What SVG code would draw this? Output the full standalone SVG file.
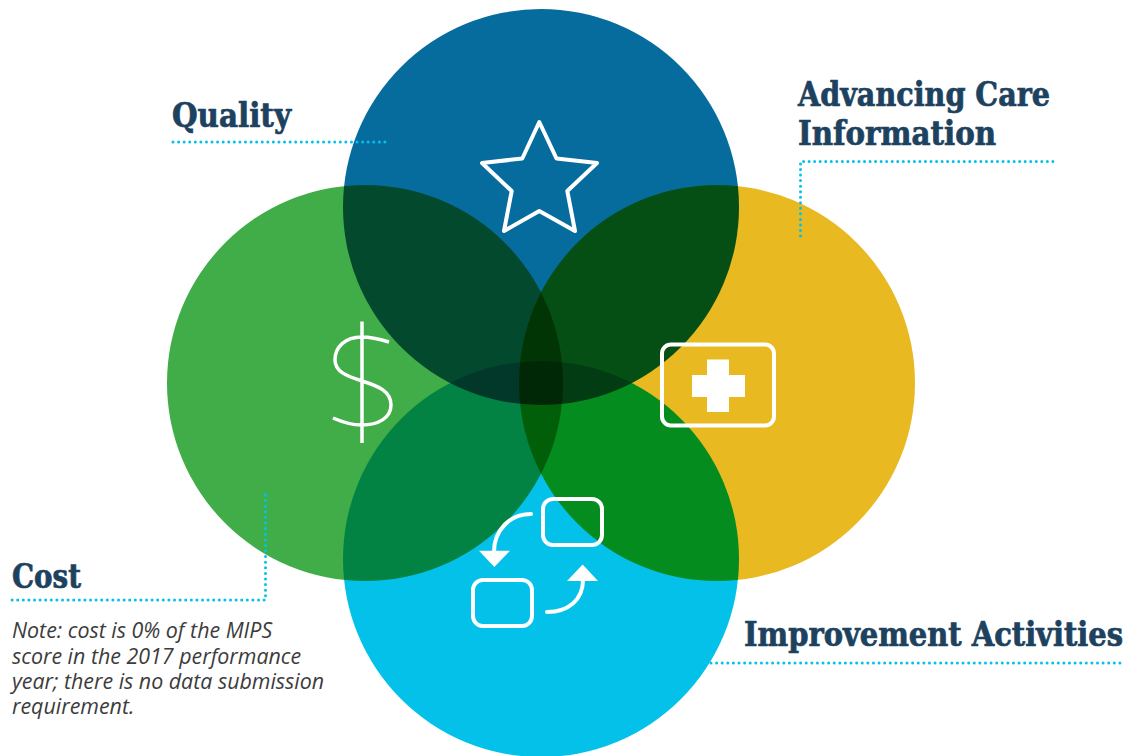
<svg xmlns="http://www.w3.org/2000/svg" width="1143" height="756" viewBox="0 0 1143 756">
<style>
.c{mix-blend-mode:multiply}
.t{font-family:"DejaVu Serif","Liberation Serif",serif;font-weight:700;fill:#1d4260;stroke:#1d4260;stroke-width:.7;font-stretch:condensed;font-size:33px}
.n{font-family:"Open Sans","Noto Sans",sans-serif;font-style:italic;font-size:21.400px;fill:#3c3c3c}
.d{fill:none;stroke:#04c1ea;stroke-width:3;stroke-linecap:round;stroke-dasharray:0 5.600}
.i{fill:none;stroke:#fff;stroke-width:4;stroke-linejoin:round;stroke-linecap:round}
.w{fill:#fff}
</style>
<rect width="1143" height="756" fill="#fff"/>
<g id="circles" style="isolation:isolate">
<rect width="1143" height="756" fill="#fff"/>
<circle id="circle-quality" class="c" cx="541" cy="207" r="198" fill="#066c9d"/>
<circle id="circle-cost" class="c" cx="365" cy="383" r="198" fill="#41ad49"/>
<circle id="circle-aci" class="c" cx="717" cy="383" r="198" fill="#e8b920"/>
<circle id="circle-ia" class="c" cx="541" cy="559" r="198" fill="#04c1ea"/>
</g>
<g id="connectors">
<path class="d" pathLength="212.900" d="M173 142H385"/>
<path class="d" pathLength="330.500" d="M800.500 236V161.500H1053"/>
<path class="d" pathLength="358.500" d="M265.500 495V600H12"/>
<path class="d" pathLength="408.900" d="M711 663H1120"/>
</g>
<g id="node-quality">
<path class="i" d="M539.300 122L556.500 158.500L597 163L567.300 191L575 231L539.300 211L504 231L511.700 191L482 163L522.300 158.500Z"/>
<text class="t" x="172" y="127" textLength="119" lengthAdjust="spacingAndGlyphs">Quality</text>
</g>
<g id="node-cost">
<path fill="none" stroke="#fff" stroke-width="3.500" d="M389 342C379 339 371 337 362 337C345 337 335 347 335 360C335 372 347 376 362 381C378 386 391 391 391 405C391 418 378 425 362 425C351 425 342 422 333 418M362 321.500V443"/>
<text class="t" x="12" y="588" textLength="69" lengthAdjust="spacingAndGlyphs">Cost</text>
<text class="n"><tspan x="12" y="638">Note: cost is 0% of the MIPS</tspan><tspan x="12" y="664">score in the 2017 performance</tspan><tspan x="12" y="689">year; there is no data submission</tspan><tspan x="12" y="714">requirement.</tspan></text>
</g>
<g id="node-aci">
<rect class="i" x="662" y="344.500" width="112" height="81" rx="9"/>
<path class="w" d="M707 359.500H729V375H745V397H729V412H707V397H692V375H707Z"/>
<text class="t" x="798" y="106" textLength="252" lengthAdjust="spacingAndGlyphs">Advancing Care</text>
<text class="t" x="798" y="145" textLength="198" lengthAdjust="spacingAndGlyphs">Information</text>
</g>
<g id="node-ia">
<rect class="i" x="543" y="499" width="59" height="46" rx="10"/>
<rect class="i" x="473" y="580" width="59" height="46" rx="10"/>
<path class="i" d="M531 514C510 514 494 530 494 552"/>
<path class="w" d="M479 550.700H510L494.300 567Z"/>
<path class="i" d="M547 612C568 612 583 600 583 580"/>
<path class="w" d="M567 581H598L582.700 564.500Z"/>
<text class="t" x="744" y="646" textLength="379" lengthAdjust="spacingAndGlyphs">Improvement Activities</text>
</g>
</svg>
